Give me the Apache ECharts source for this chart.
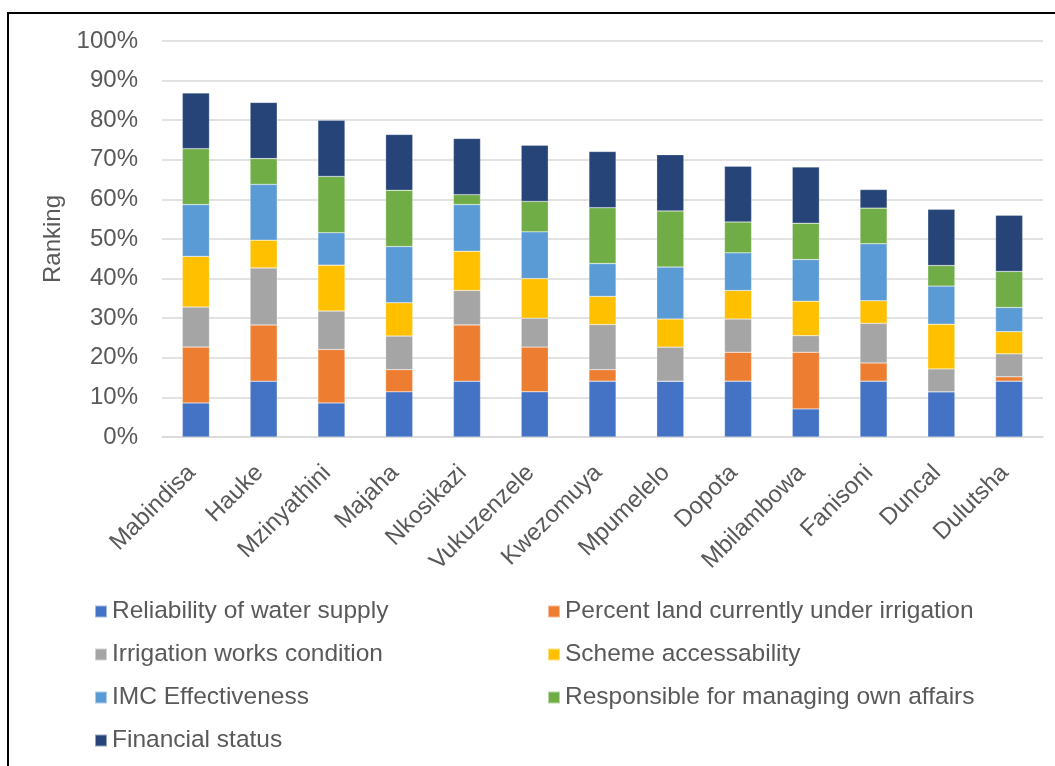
<!DOCTYPE html>
<html>
<head>
<meta charset="utf-8">
<script src="https://cdn.jsdelivr.net/npm/echarts@6/dist/echarts.min.js"></script>
<style>
  html, body { margin: 0; padding: 0; background: #fff; }
  #chart { width: 1055px; height: 766px; }
</style>
</head>
<body>
<div id="chart"></div>
<script>
// schemes along the x axis
const schemes = ['Mabindisa', 'Hauke', 'Mzinyathini', 'Majaha', 'Nkosikazi', 'Vukuzenzele',
  'Kwezomuya', 'Mpumelelo', 'Dopota', 'Mbilambowa', 'Fanisoni', 'Duncal', 'Dulutsha']

// stacked segment values, percent
const waterSupply   = [8.6, 14.1, 8.6, 11.4, 14.1, 11.4, 14.1, 14.1, 14.1, 7.1, 14.1, 11.4, 14.1]
const landIrrigated = [14.1, 14.2, 13.5, 5.6, 14.2, 11.3, 2.9, 0, 7.3, 14.3, 4.6, 0, 1.1]
const worksCondition = [10.1, 14.4, 9.7, 8.5, 8.7, 7.3, 11.4, 8.6, 8.4, 4.2, 10.0, 5.8, 5.8]
const accessability = [12.8, 7.0, 11.6, 8.4, 9.9, 10.0, 7.1, 7.1, 7.2, 8.7, 5.7, 11.3, 5.6]
const imcEffect     = [13.1, 14.1, 8.2, 14.2, 11.8, 11.8, 8.3, 13.1, 9.5, 10.5, 14.4, 9.6, 6.1]
const ownAffairs    = [14.1, 6.5, 14.2, 14.2, 2.5, 7.7, 14.1, 14.2, 7.8, 9.2, 9.0, 5.2, 9.1]
const financial     = [14.1, 14.2, 14.2, 14.1, 14.2, 14.2, 14.2, 14.2, 14.1, 14.2, 4.7, 14.2, 14.2]

const seriesNames = ['Reliability of water supply', 'Percent land currently under irrigation',
  'Irrigation works condition', 'Scheme accessability', 'IMC Effectiveness',
  'Responsible for managing own affairs', 'Financial status']
const seriesData = [waterSupply, landIrrigated, worksCondition, accessability, imcEffect, ownAffairs, financial]
const colors = ['#4472C4', '#ED7D31', '#A5A5A5', '#FFC000', '#5B9BD5', '#70AD47', '#264478']

const FONT = 'Liberation Sans, Arial, sans-serif'
const TXT = '#595959'

const chart = echarts.init(document.getElementById('chart'))

const legendText = { color: TXT, fontSize: 24.5, fontFamily: FONT, lineHeight: 24.5 }

const options = {
  animation: false,
  color: colors,
  grid: { left: 162, right: 12, top: 41, bottom: 329 },
  graphic: [{
    // outer frame of the chart
    type: 'rect',
    shape: { x: 8, y: 13, width: 1100, height: 800 },
    style: { fill: 'none', stroke: '#000', lineWidth: 2 },
    silent: true
  }],
  legend: [{
    orient: 'vertical',
    left: 94, top: 599, padding: 0,
    itemWidth: 12, itemHeight: 12, itemGap: 18,
    icon: 'rect',
    textStyle: legendText,
    data: [seriesNames[0], seriesNames[2], seriesNames[4], seriesNames[6]]
  }, {
    orient: 'vertical',
    left: 547, top: 599, padding: 0,
    itemWidth: 12, itemHeight: 12, itemGap: 18,
    icon: 'rect',
    textStyle: legendText,
    data: [seriesNames[1], seriesNames[3], seriesNames[5]]
  }],
  xAxis: {
    type: 'category',
    data: schemes,
    axisLine: { lineStyle: { color: '#D9D9D9', width: 1.5 } },
    axisTick: { show: false },
    axisLabel: {
      rotate: 45, interval: 0, margin: 28, padding: [0, 6, 0, 0],
      color: TXT, fontSize: 24, fontFamily: FONT
    }
  },
  yAxis: {
    type: 'value',
    min: 0, max: 100, interval: 10,
    name: 'Ranking',
    nameLocation: 'middle',
    nameGap: 97,
    nameTextStyle: { color: TXT, fontSize: 24, fontFamily: FONT },
    axisLine: { show: false },
    axisTick: { show: false },
    axisLabel: {
      margin: 24, formatter: '{value}%',
      color: TXT, fontSize: 24, fontFamily: FONT
    },
    splitLine: { lineStyle: { color: '#D9D9D9', width: 1.5 } }
  },
  series: seriesNames.map((name, i) => ({
    name: name,
    type: 'bar',
    stack: 'total',
    barWidth: '40%',
    data: seriesData[i],
    itemStyle: { color: colors[i], borderColor: 'rgba(255,255,255,0.5)', borderWidth: 0.5 }
  }))
}

chart.setOption(options)
</script>
</body>
</html>
